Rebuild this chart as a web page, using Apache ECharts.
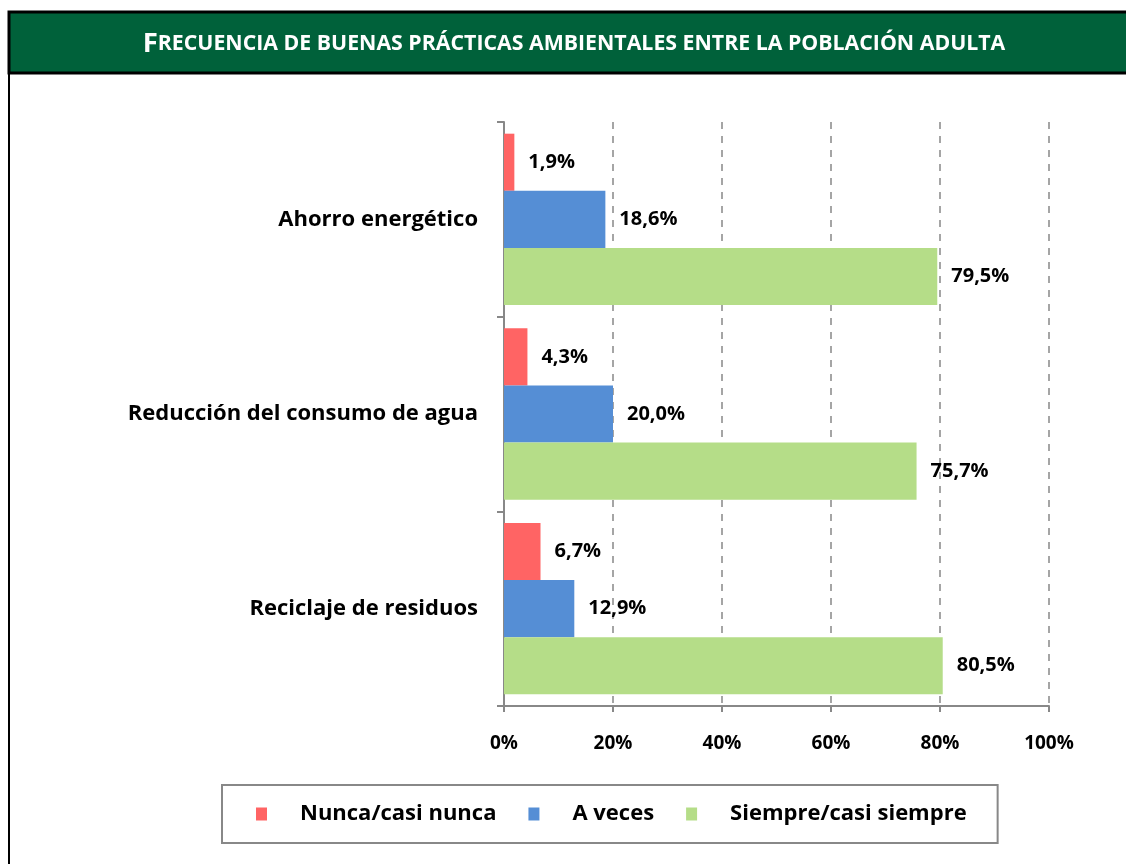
<!DOCTYPE html>
<html lang="es">
  <meta charset="utf-8" />
  <head>
    <title>Frecuencia de buenas prácticas ambientales</title>
    <script src="https://cdn.jsdelivr.net/npm/echarts@6/dist/echarts.min.js"></script>
  </head>
  <style>
    * {
      margin: 0;
      padding: 0;
    }

    body {
      width: 1126px;
      height: 864px;
      background: #fff;
    }

    #main {
      width: 1126px;
      height: 864px;
    }
  </style>
  <body>
    <div id="main"></div>
    <script>
      const categories = [
        "Ahorro energético",
        "Reducción del consumo de agua",
        "Reciclaje de residuos",
      ];
      const seriesNames = ["Nunca/casi nunca", "A veces", "Siempre/casi siempre"];
      const nunca = [1.9, 4.3, 6.7];
      const aVeces = [18.6, 20.0, 12.9];
      const siempre = [79.5, 75.7, 80.5];
      const xTicks = [0, 20, 40, 60, 80, 100];

      const colors = ["#ff6464", "#558ed5", "#b5dd88"];
      const font = "'Open Sans', 'Noto Sans', sans-serif";

      function pct(v) {
        return v.toFixed(1).replace(".", ",") + "%";
      }

      function makeSeries(name, data, color) {
        return {
          name: name,
          type: "bar",
          data: data,
          barGap: "0%",
          barCategoryGap: "12%",
          itemStyle: { color: color },
          label: {
            show: true,
            position: "right",
            distance: 14,
            color: "#000",
            fontFamily: font,
            fontWeight: "bold",
            fontSize: 20,
            formatter: function (p) {
              return pct(p.value);
            },
          },
        };
      }

      const chart = echarts.init(document.getElementById("main"));

      const option = {
        animation: false,
        backgroundColor: "#fff",
        graphic: [
          {
            type: "rect",
            shape: { x: 9, y: 12, width: 1130, height: 870 },
            style: { fill: "#fff", stroke: "#000", lineWidth: 2 },
            z: -10,
          },
          {
            type: "rect",
            shape: { x: 9, y: 12, width: 1130, height: 61 },
            style: { fill: "#00613a", stroke: "#000", lineWidth: 3 },
            z: -5,
          },
          {
            type: "text",
            x: 574,
            y: 44,
            style: {
              text: "{a|F}{b|RECUENCIA DE BUENAS PRÁCTICAS AMBIENTALES ENTRE LA POBLACIÓN ADULTA}",
              align: "center",
              verticalAlign: "middle",
              fill: "#fff",
              fontFamily: font,
              rich: {
                a: { fontSize: 27.5, fontWeight: "bold", fill: "#fff", fontFamily: font },
                b: { fontSize: 21.3, fontWeight: "bold", fill: "#fff", fontFamily: font },
              },
            },
          },
        ],
        legend: {
          data: seriesNames,
          left: 222,
          top: 785,
          width: 776,
          orient: "horizontal",
          itemWidth: 11,
          itemHeight: 13,
          itemGap: 32,
          borderColor: "#888",
          borderWidth: 2,
          padding: [18, 31, 18, 34],
          icon: "rect",
          textStyle: {
            fontFamily: font,
            fontWeight: "bold",
            fontSize: 22,
            color: "#000",
            padding: [0, 0, 0, 28],
          },
        },
        grid: {
          left: 504,
          right: 77,
          top: 122,
          bottom: 158,
          containLabel: false,
        },
        xAxis: {
          type: "value",
          min: 0,
          max: 100,
          interval: 20,
          axisLine: { show: true, lineStyle: { color: "#888", width: 2 } },
          axisTick: { show: true, length: 6, lineStyle: { color: "#888", width: 2 } },
          splitLine: {
            show: true,
            lineStyle: { color: "#888", width: 1.5, type: [7, 7] },
          },
          axisLabel: {
            margin: 28,
            color: "#000",
            fontFamily: font,
            fontWeight: "bold",
            fontSize: 19,
            formatter: function (v) {
              return xTicks.indexOf(v) >= 0 ? v + "%" : "";
            },
          },
        },
        yAxis: {
          type: "category",
          data: categories,
          inverse: true,
          axisLine: { show: true, lineStyle: { color: "#888", width: 2 } },
          axisTick: { show: true, length: 7, lineStyle: { color: "#888", width: 2 } },
          axisLabel: {
            margin: 26,
            color: "#000",
            fontFamily: font,
            fontWeight: "bold",
            fontSize: 22,
          },
        },
        series: [
          makeSeries(seriesNames[0], nunca, colors[0]),
          makeSeries(seriesNames[1], aVeces, colors[1]),
          makeSeries(seriesNames[2], siempre, colors[2]),
        ],
      };

      chart.setOption(option);
    </script>
  </body>
</html>
